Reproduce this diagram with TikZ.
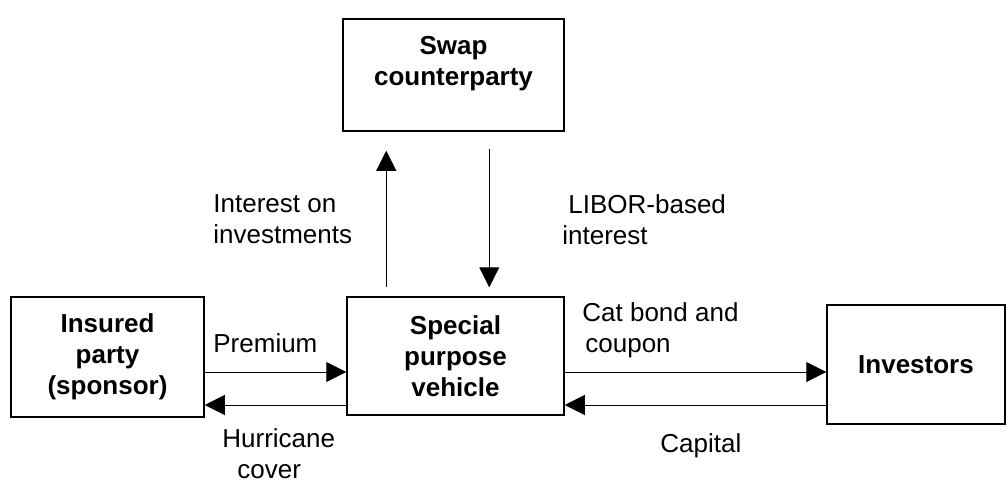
\documentclass[tikz,border=0pt]{standalone}
\usepackage{fontspec}
\setmainfont{Liberation Sans}
\usetikzlibrary{arrows.meta, positioning, calc}

\begin{document}
\begin{tikzpicture}[x=0.5pt, y=-0.5pt,
  party/.style={draw, line width=0.75pt, align=center, inner sep=0pt,
    font=\fontsize{13}{15.5}\selectfont\bfseries},
  flow/.style={line width=0.5pt, -{Triangle[length=10pt, width=10pt]}},
  flowtext/.style={inner sep=0pt, anchor=base west, align=left,
    font=\fontsize{13}{15.25}\selectfont}]
\useasboundingbox (0,0) rectangle (1007,482);
% Parties
\node[party, minimum width=110.5pt, minimum height=56pt] (swap) at (453.5,75) {Swap\\counterparty\\[-1.25pt]\mbox{}};
\node[party, minimum width=96.5pt, minimum height=60pt] (insured) at (107.5,357) {Insured\\party\\(sponsor)};
\node[party, minimum width=108.5pt, minimum height=59pt] (spv) at (455.5,356) {Special\\purpose\\vehicle};
\node[party, minimum width=89pt, minimum height=59.5pt] (inv) at (916,364.5) {Investors};
% Swap flows
\coordinate (upfoot) at ($(spv.north west)+(40,0)$);
\coordinate (downfoot) at ($(spv.north west)+(143,0)$);
\draw[flow, shorten <=4.5pt, shorten >=9.5pt] (upfoot) -- (upfoot |- swap.south);
\draw[flow, shorten <=8.5pt, shorten >=4.5pt] (downfoot |- swap.south) -- (downfoot);
% Sponsor flows
\coordinate (premstart) at ([yshift=-7.5pt]insured.east);
\coordinate (hurrstart) at ([yshift=-24.5pt]spv.west);
\draw[flow] (premstart) -- (premstart -| spv.west);
\draw[flow] (hurrstart) -- (hurrstart -| insured.east);
% Investor flows
\coordinate (catstart) at ([yshift=-8pt]spv.east);
\coordinate (capend) at ([yshift=-24.5pt]spv.east);
\draw[flow] (catstart) -- (catstart -| inv.west);
\draw[flow] (capend -| inv.west) -- (capend);
% Labels (base = last line)
\node[flowtext] (intinv) at (213,243) {Interest on\\investments};
\node[flowtext] (libor) at (562,244) {\hspace*{3pt}LIBOR-based\\interest};
\node[flowtext] (prem) at (213,352) {Premium};
\node[flowtext] (hurr) at (222,478) {Hurricane\\\hspace*{7.5pt}cover};
\node[flowtext] (catbond) at (582,352) {Cat bond and\\\hspace*{1.5pt}coupon};
\node[flowtext] (capital) at (660,452) {Capital};
\end{tikzpicture}
\end{document}
